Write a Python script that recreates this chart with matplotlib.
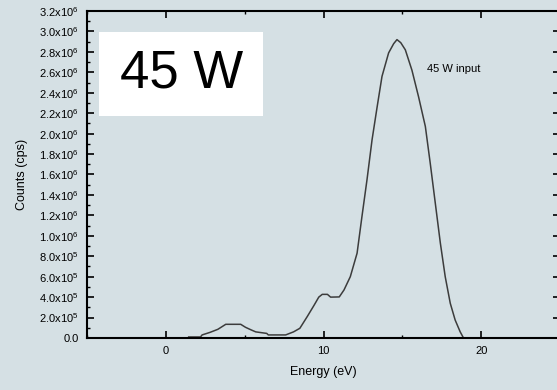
import matplotlib
matplotlib.use("Agg")
import matplotlib.pyplot as plt
from matplotlib.patches import Rectangle
from matplotlib.ticker import MultipleLocator

plt.rcParams['font.family'] = ['Liberation Sans', 'DejaVu Sans']
plt.rcParams['mathtext.fontset'] = 'custom'
plt.rcParams['mathtext.rm'] = 'Liberation Sans'

# spectrum
energy = [1.45, 2.2, 2.3, 2.8, 3.3, 3.8, 4.2, 4.75, 5.05, 5.4, 5.7, 6.4, 6.5, 7.6, 8.1, 8.5,
          8.97, 9.4, 9.7, 9.92, 10.25, 10.45, 11.0, 11.3, 11.7, 12.13, 12.44, 12.76, 13.08,
          13.4, 13.71, 14.13, 14.45, 14.66, 14.9, 15.19, 15.61, 16.03, 16.46, 16.77, 17.09,
          17.41, 17.72, 18.04, 18.35, 18.67, 18.88]
counts = [1.0e4, 1.0e4, 3.0e4, 5.5e4, 8.5e4, 1.34e5, 1.34e5, 1.34e5, 1.05e5, 8.0e4, 6.0e4,
          4.5e4, 3.0e4, 3.0e4, 6.0e4, 9.5e4, 2.1e5, 3.2e5, 4.0e5, 4.27e5, 4.27e5, 4.0e5,
          4.02e5, 4.7e5, 6.0e5, 8.3e5, 1.19e6, 1.55e6, 1.94e6, 2.26e6, 2.56e6, 2.79e6,
          2.88e6, 2.92e6, 2.89e6, 2.82e6, 2.62e6, 2.36e6, 2.07e6, 1.71e6, 1.32e6, 0.93e6,
          6.0e5, 3.4e5, 1.76e5, 6.0e4, 0.0]

xticks = [0, 10, 20]
yticks = [0, 2e5, 4e5, 6e5, 8e5, 1.0e6, 1.2e6, 1.4e6, 1.6e6, 1.8e6, 2.0e6, 2.2e6, 2.4e6,
          2.6e6, 2.8e6, 3.0e6, 3.2e6]
ytick_labels = ['0.0', r'2.0x10$^{5}$', r'4.0x10$^{5}$', r'6.0x10$^{5}$', r'8.0x10$^{5}$',
                r'1.0x10$^{6}$', r'1.2x10$^{6}$', r'1.4x10$^{6}$', r'1.6x10$^{6}$',
                r'1.8x10$^{6}$', r'2.0x10$^{6}$', r'2.2x10$^{6}$', r'2.4x10$^{6}$',
                r'2.6x10$^{6}$', r'2.8x10$^{6}$', r'3.0x10$^{6}$', r'3.2x10$^{6}$']

bg = '#d5e0e4'
fig = plt.figure(figsize=(5.57, 3.9), dpi=100, facecolor=bg)
ax = fig.add_axes([87 / 557, 52 / 390, 473 / 557, 327 / 390], facecolor=bg)

ax.plot(energy, counts, color='#3c3c3c', lw=1.1)

ax.set_xlim(-5, 25)
ax.set_ylim(0, 3.2e6)
ax.set_xticks(xticks)
ax.xaxis.set_minor_locator(MultipleLocator(5))
ax.set_yticks(yticks)
ax.set_yticklabels(ytick_labels)
ax.yaxis.set_minor_locator(MultipleLocator(1e5))
ax.tick_params(which='both', direction='in', top=True, right=True, colors='black',
               labelsize=8, pad=6)
ax.tick_params(which='major', length=5, width=1.2)
ax.tick_params(which='minor', length=2.5, width=1.0)
for s in ax.spines.values():
    s.set_linewidth(1.5)

ax.set_xlabel('Energy (eV)', fontsize=9, labelpad=7)
ax.set_ylabel('Counts (cps)', fontsize=9, labelpad=8)

ax.add_patch(Rectangle((0.0254, 0.679), 0.347, 0.257, transform=ax.transAxes,
                       facecolor='white', edgecolor='none', zorder=3))
ax.text(0.199, 0.81, '45 W', transform=ax.transAxes, fontsize=38,
        ha='center', va='center', zorder=4)
ax.text(0.719, 0.823, '45 W input', transform=ax.transAxes, fontsize=8,
        ha='left', va='center')

fig.savefig('out.png', dpi=100, facecolor=bg)
